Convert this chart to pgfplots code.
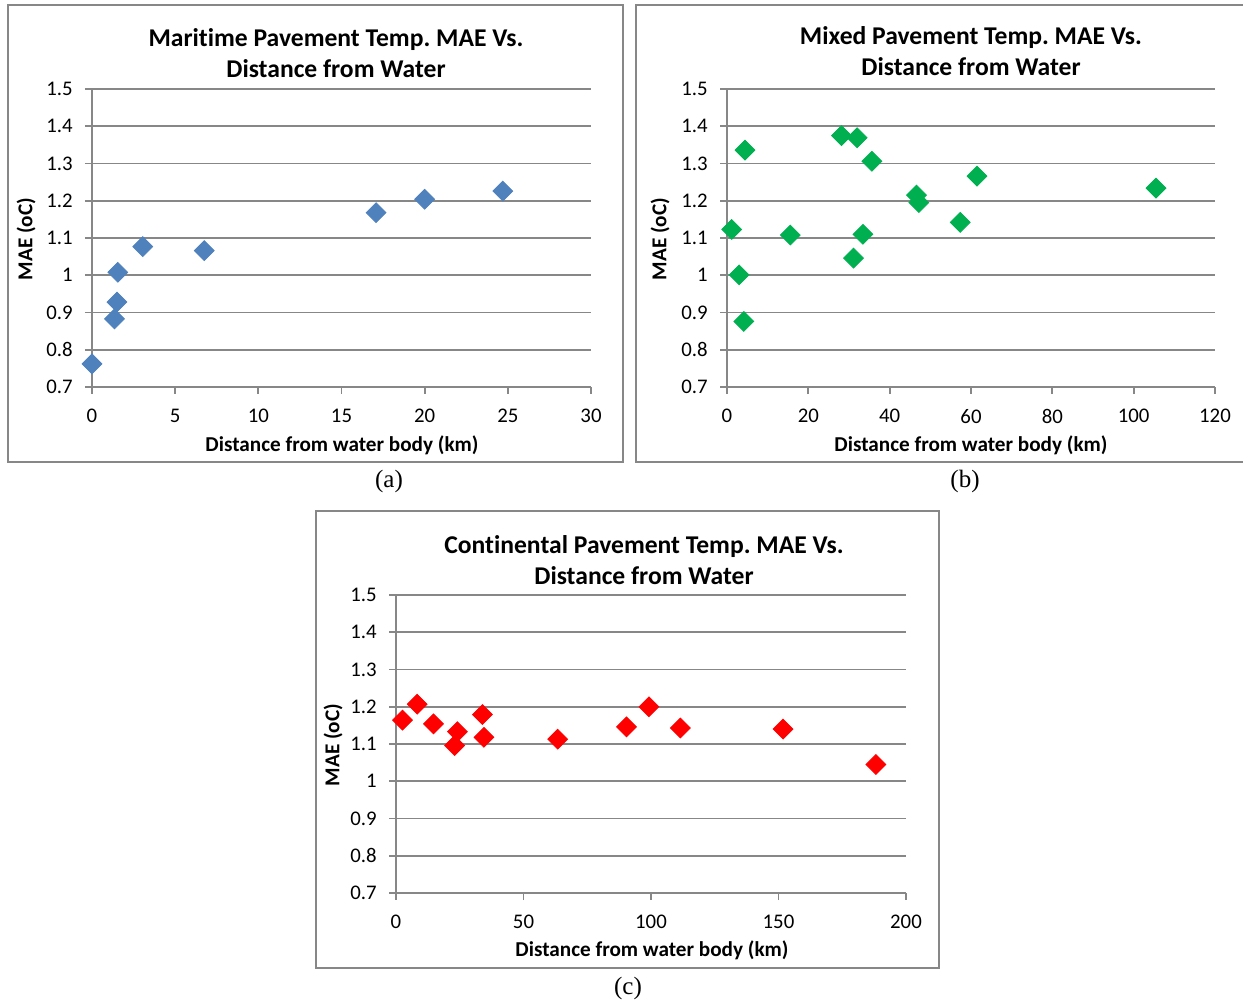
\documentclass[border=0pt]{standalone}
\usepackage{fontspec}
\setmainfont{Carlito}[Ligatures={NoCommon}]
\newfontfamily\capfont{Liberation Serif}
\usepackage{pgfplots}
\pgfplotsset{compat=1.18}
\frenchspacing
\definecolor{gridgray}{HTML}{878787}
\definecolor{mblue}{HTML}{4F81BD}
\definecolor{mgreen}{HTML}{00B050}
\definecolor{mred}{HTML}{FF0000}
\pgfplotsset{
  panel/.style={
    scale only axis,
    axis lines=left,
    axis line style={-, gridgray, line width=0.9pt},
    ymin=0.7, ymax=1.5, ytick={0.7,0.8,...,1.5},
    yticklabels={0.7,0.8,0.9,1,1.1,1.2,1.3,1.4,1.5},
    ymajorgrids, grid style={gridgray, line width=0.9pt},
    tick align=outside, major tick length=3.5pt,
    tick style={gridgray, line width=0.9pt},
    /pgf/number format/assume math mode=true,
    tick label style={font=\fontsize{10.4}{12}\selectfont},
    yticklabel style={inner sep=0pt, xshift=-6pt},
    xticklabel style={inner sep=0pt, yshift=-7.5pt},
    label style={font=\bfseries\fontsize{10.6}{12}\selectfont},
    clip=false,
  },
  dia/.style={only marks, mark=square*, mark size=3.5pt, mark options={rotate=45, draw=#1, fill=#1}},
}
\begin{document}
\begin{tikzpicture}
\path[use as bounding box] (0,0) rectangle (621.5pt,-500pt);
% frames
\draw[gridgray, line width=0.8pt] (4pt,-2.5pt) rectangle (311.5pt,-231pt);
\draw[gridgray, line width=0.8pt] (318pt,-2.5pt) rectangle (630pt,-231pt);
\draw[gridgray, line width=0.8pt] (158pt,-255.5pt) rectangle (469.5pt,-484pt);
% (a)
\begin{axis}[panel, at={(46pt,-193.5pt)}, anchor=south west,
  width=249.5pt, height=149pt, xmin=0, xmax=30, xtick={0,5,...,30}]
\addplot[dia=mblue] coordinates {
(0.0,0.762) (1.35,0.883) (1.5,0.928) (1.55,1.008) (3.05,1.077) (6.75,1.066)
(17.08,1.168) (20.0,1.204) (24.7,1.226)};
\end{axis}
% (b)
\begin{axis}[panel, at={(363.5pt,-193.5pt)}, anchor=south west,
  width=244pt, height=149pt, xmin=0, xmax=120, xtick={0,20,...,120}]
\addplot[dia=mgreen] coordinates {
(1.15,1.123) (2.98,1.001) (4.13,0.876) (4.42,1.336) (15.56,1.108) (28.15,1.375)
(31.99,1.369) (35.64,1.306) (31.12,1.046) (33.43,1.110) (46.59,1.215) (47.17,1.195)
(57.35,1.142) (61.48,1.266) (105.5,1.234)};
\end{axis}
% (c)
\begin{axis}[panel, at={(198pt,-446.5pt)}, anchor=south west,
  width=255pt, height=149pt, xmin=0, xmax=200, xtick={0,50,...,200}]
\addplot[dia=mred] coordinates {
(2.56,1.164) (8.3,1.207) (14.7,1.154) (24.1,1.133) (23.0,1.096) (33.9,1.179)
(34.5,1.118) (63.4,1.113) (90.4,1.146) (99.2,1.200) (111.5,1.143) (151.8,1.140)
(188.2,1.045)};
\end{axis}
% titles
\begin{scope}[every node/.style={font=\bfseries\fontsize{12.8}{15.5}\selectfont, align=center}]
\node at (168pt,-26.5pt) {Maritime Pavement Temp. MAE Vs.\\Distance from Water};
\node at (485.5pt,-25.5pt) {Mixed Pavement Temp. MAE Vs.\\Distance from Water};
\node at (322pt,-280pt) {Continental Pavement Temp. MAE Vs.\\Distance from Water};
\end{scope}
% axis labels
\begin{scope}[every node/.style={font=\bfseries\fontsize{10.6}{12}\selectfont}]
\node at (171pt,-222.5pt) {Distance from water body (km)};
\node at (485.5pt,-222.5pt) {Distance from water body (km)};
\node at (326pt,-475pt) {Distance from water body (km)};
\node[rotate=90] at (13pt,-119.5pt) {MAE (oC)};
\node[rotate=90] at (330pt,-119.5pt) {MAE (oC)};
\node[rotate=90] at (166.5pt,-372.5pt) {MAE (oC)};
\end{scope}
% captions
\begin{scope}[every node/.style={font=\capfont\fontsize{12.5}{14}\selectfont}]
\node at (194.5pt,-240.5pt) {(a)};
\node at (482.5pt,-240.5pt) {(b)};
\node at (314pt,-494pt) {(c)};
\end{scope}
\end{tikzpicture}
\end{document}
